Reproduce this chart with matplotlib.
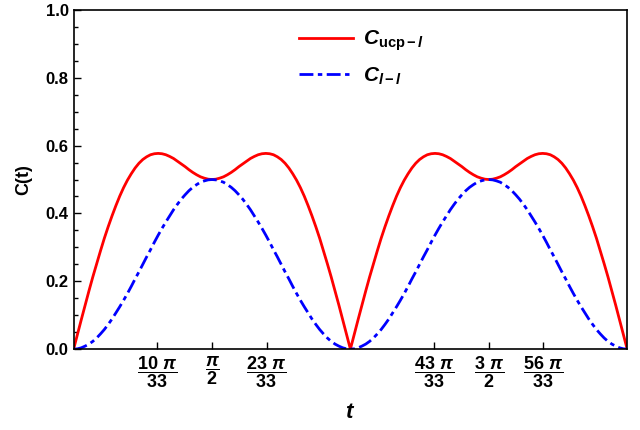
import numpy as np
import matplotlib
matplotlib.use('Agg')
import matplotlib.pyplot as plt

plt.rcParams['font.family'] = ['Liberation Sans', 'DejaVu Sans']
plt.rcParams['font.weight'] = 'bold'
plt.rcParams['mathtext.fontset'] = 'custom'
plt.rcParams['mathtext.rm'] = 'Liberation Sans:bold'
plt.rcParams['mathtext.bf'] = 'Liberation Sans:bold'
plt.rcParams['mathtext.it'] = 'Liberation Sans:bold:italic'

# samples every 2.5 degrees over 0..2pi
t = np.linspace(0, 2 * np.pi, 145)

c_ucp_half = [0.0, 0.044, 0.087, 0.130, 0.172, 0.213, 0.252, 0.290, 0.327, 0.361,
              0.393, 0.423, 0.451, 0.476, 0.498, 0.517, 0.534, 0.548, 0.559, 0.567,
              0.573, 0.576, 0.577, 0.576, 0.573, 0.568, 0.562, 0.554, 0.546, 0.538,
              0.529, 0.521, 0.514, 0.508, 0.504, 0.501, 0.500,
              0.501, 0.504, 0.508, 0.514, 0.521, 0.529, 0.538, 0.546, 0.554, 0.562,
              0.568, 0.573, 0.576, 0.577, 0.576, 0.573, 0.567, 0.559, 0.548, 0.534,
              0.517, 0.498, 0.476, 0.451, 0.423, 0.393, 0.361, 0.327, 0.290, 0.252,
              0.213, 0.172, 0.130, 0.087, 0.044]
c_ll_half = [0.0, 0.001, 0.004, 0.009, 0.015, 0.023, 0.033, 0.045, 0.058, 0.073,
             0.089, 0.107, 0.125, 0.144, 0.164, 0.185, 0.207, 0.228, 0.250, 0.272,
             0.293, 0.315, 0.336, 0.356, 0.375, 0.393, 0.411, 0.427, 0.442, 0.455,
             0.467, 0.477, 0.485, 0.492, 0.496, 0.499, 0.500,
             0.499, 0.496, 0.492, 0.485, 0.477, 0.467, 0.455, 0.442, 0.427, 0.411,
             0.393, 0.375, 0.356, 0.336, 0.315, 0.293, 0.272, 0.250, 0.228, 0.207,
             0.185, 0.164, 0.144, 0.125, 0.107, 0.089, 0.073, 0.058, 0.045, 0.033,
             0.023, 0.015, 0.009, 0.004, 0.001]
c_ucp = c_ucp_half + c_ucp_half + [0.0]
c_ll = c_ll_half + c_ll_half + [0.0]

tick_pos = [10 * np.pi / 33, np.pi / 2, 23 * np.pi / 33,
            43 * np.pi / 33, 3 * np.pi / 2, 56 * np.pi / 33]
tick_labels = [r'$\dfrac{10\ \mathit{\pi}}{33}$', r'$\dfrac{\mathit{\pi}}{2}$',
               r'$\dfrac{23\ \mathit{\pi}}{33}$', r'$\dfrac{43\ \mathit{\pi}}{33}$',
               r'$\dfrac{3\ \mathit{\pi}}{2}$', r'$\dfrac{56\ \mathit{\pi}}{33}$']

fig = plt.figure(figsize=(6.4, 4.3), dpi=100)
ax = fig.add_axes([0.115, 0.188, 0.865, 0.789])

ax.plot(t, c_ucp, color='#ff0000', lw=2.0, label=r'$\mathit{C}_{\mathrm{ucp}-\mathit{l}}$')
ax.plot(t, c_ll, color='#0000ff', lw=2.0, dashes=(5, 1.6, 1.6, 1.6),
        label=r'$\mathit{C}_{\mathit{l}-\mathit{l}}$')

ax.set_xlim(0, 2 * np.pi)
ax.set_ylim(0, 1.0)
ax.set_xticks(tick_pos)
ax.set_xticklabels(tick_labels, fontsize=13)
ax.set_yticks(np.arange(0, 1.01, 0.2))
ax.set_yticklabels(['0.0', '0.2', '0.4', '0.6', '0.8', '1.0'], fontsize=12, fontweight='bold')
ax.set_yticks(np.arange(0, 1.01, 0.05), minor=True)
ax.tick_params(axis='both', which='major', direction='in', length=5, width=1)
ax.tick_params(axis='y', which='minor', direction='in', length=3, width=1)
for s in ax.spines.values():
    s.set_linewidth(1.2)

ax.set_xlabel(r'$\mathit{t}$', fontsize=16)
ax.xaxis.set_label_coords(0.5, -0.155)
ax.set_ylabel(r'$\mathbf{C(t)}$', fontsize=13, labelpad=8)

ax.legend(loc='upper center', bbox_to_anchor=(0.52, 1.0), frameon=False, fontsize=15,
          handlelength=2.6, handletextpad=0.5, labelspacing=0.6)

fig.savefig('out.png', dpi=100)
